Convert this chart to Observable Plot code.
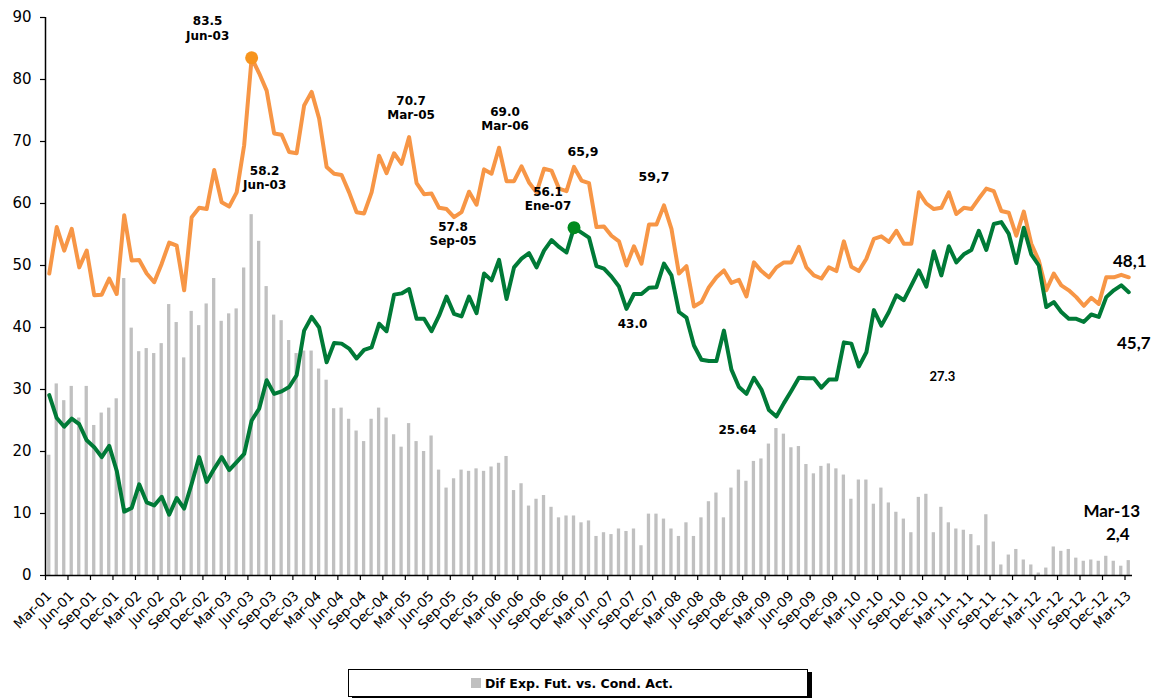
<!DOCTYPE html>
<html>
<head>
<meta charset="utf-8">
<script src="https://cdn.jsdelivr.net/npm/d3@7"></script>
<script src="https://cdn.jsdelivr.net/npm/@observablehq/plot@0.6"></script>
<style>
  html, body { margin: 0; padding: 0; background: #fff; }
  #wrap { position: relative; width: 1156px; height: 698px; overflow: hidden; }
  #legend {
    position: absolute; left: 348px; top: 669px; width: 458px; height: 26px;
    border: 1px solid #000; background: #fff; box-shadow: 4px 3px 0 #000;
    font-family: "DejaVu Sans", sans-serif; font-weight: bold; font-size: 12.5px;
    display: flex; align-items: center; justify-content: center; color: #000;
  }
  #legend .sw { display: inline-block; width: 10px; height: 10px; background: #c0c0c0; margin-right: 4px; margin-left: -12px; }
  #chart svg g[aria-label="x-axis tick label"] text { font-size: 13.5px; }
</style>
</head>
<body>
<div id="wrap">
  <div id="chart"></div>
  <div id="legend"><span class="sw"></span><span>Dif Exp. Fut. vs. Cond. Act.</span></div>
</div>
<script>
const months = [
  "Mar-01","Apr-01","May-01","Jun-01","Jul-01","Aug-01","Sep-01","Oct-01","Nov-01","Dec-01",
  "Jan-02","Feb-02","Mar-02","Apr-02","May-02","Jun-02","Jul-02","Aug-02","Sep-02","Oct-02","Nov-02","Dec-02",
  "Jan-03","Feb-03","Mar-03","Apr-03","May-03","Jun-03","Jul-03","Aug-03","Sep-03","Oct-03","Nov-03","Dec-03",
  "Jan-04","Feb-04","Mar-04","Apr-04","May-04","Jun-04","Jul-04","Aug-04","Sep-04","Oct-04","Nov-04","Dec-04",
  "Jan-05","Feb-05","Mar-05","Apr-05","May-05","Jun-05","Jul-05","Aug-05","Sep-05","Oct-05","Nov-05","Dec-05",
  "Jan-06","Feb-06","Mar-06","Apr-06","May-06","Jun-06","Jul-06","Aug-06","Sep-06","Oct-06","Nov-06","Dec-06",
  "Jan-07","Feb-07","Mar-07","Apr-07","May-07","Jun-07","Jul-07","Aug-07","Sep-07","Oct-07","Nov-07","Dec-07",
  "Jan-08","Feb-08","Mar-08","Apr-08","May-08","Jun-08","Jul-08","Aug-08","Sep-08","Oct-08","Nov-08","Dec-08",
  "Jan-09","Feb-09","Mar-09","Apr-09","May-09","Jun-09","Jul-09","Aug-09","Sep-09","Oct-09","Nov-09","Dec-09",
  "Jan-10","Feb-10","Mar-10","Apr-10","May-10","Jun-10","Jul-10","Aug-10","Sep-10","Oct-10","Nov-10","Dec-10",
  "Jan-11","Feb-11","Mar-11","Apr-11","May-11","Jun-11","Jul-11","Aug-11","Sep-11","Oct-11","Nov-11","Dec-11",
  "Jan-12","Feb-12","Mar-12","Apr-12","May-12","Jun-12","Jul-12","Aug-12","Sep-12","Oct-12","Nov-12","Dec-12",
  "Jan-13","Feb-13","Mar-13"
];

// Expectativas futuras (orange line)
const expFut = [
  48.7,56.2,52.4,55.9,49.7,52.4,45.2,45.3,47.9,45.4,
  58.1,50.8,50.9,48.7,47.3,50.3,53.7,53.2,46.0,57.8,59.3,59.1,
  65.4,60.2,59.5,61.8,69.4,83.5,81.0,78.2,71.3,71.1,68.3,68.1,
  75.8,78.0,73.7,65.9,64.8,64.6,61.8,58.6,58.4,61.8,67.7,64.9,
  68.1,66.4,70.7,63.3,61.5,61.6,59.3,59.1,57.8,58.6,61.9,59.8,
  65.5,64.8,69.0,63.6,63.6,66.0,63.4,61.8,65.6,65.3,62.4,62.0,
  65.9,63.7,63.3,56.2,56.3,54.8,53.9,50.0,53.1,50.3,56.6,56.6,
  59.7,55.9,48.7,49.9,43.4,44.1,46.5,48.1,49.2,47.2,47.7,45.0,
  50.5,49.1,48.1,49.7,50.5,50.5,53.0,49.7,48.4,47.9,49.7,49.1,
  53.9,49.8,49.1,51.1,54.3,54.7,53.8,55.6,53.5,53.5,61.8,60.0,
  59.1,59.3,61.8,58.3,59.3,59.1,60.8,62.4,62.0,58.8,58.5,54.8,
  58.7,53.5,50.8,46.0,48.7,46.8,46.0,44.9,43.5,44.8,43.8,48.1,
  48.1,48.5,48.1
];

// Condiciones actuales (green line)
const condAct = [
  29.1,25.4,24.0,25.3,24.4,21.8,20.7,19.1,20.9,16.9,
  10.3,10.9,14.7,11.8,11.3,12.7,9.8,12.5,10.8,14.8,19.1,15.1,
  17.2,19.1,17.0,18.3,19.6,25.0,26.9,31.5,29.3,29.7,30.4,32.3,
  39.5,41.7,40.0,34.4,37.5,37.4,36.6,35.0,36.4,36.8,40.6,39.4,
  45.3,45.5,46.2,41.4,41.4,39.4,41.9,45.0,42.2,41.8,45.0,42.3,
  48.7,47.6,50.9,44.6,49.7,51.1,52.0,49.7,52.4,54.1,53.0,52.1,
  56.1,55.3,54.5,49.9,49.5,48.2,46.6,43.0,45.4,45.4,46.4,46.5,
  50.3,48.4,42.5,41.6,37.1,34.8,34.6,34.6,39.5,33.2,30.4,29.3,
  31.9,30.0,26.7,25.64,27.8,29.8,31.9,31.8,31.8,30.3,31.6,31.6,
  37.6,37.4,33.7,36.0,42.8,40.3,42.5,45.2,44.4,46.8,49.2,46.6,
  52.3,48.4,53.1,50.5,51.8,52.5,55.6,52.5,56.7,57.0,55.1,50.4,
  56.1,51.8,50.0,43.3,44.1,42.5,41.4,41.4,40.9,42.1,41.7,44.9,
  46.0,46.8,45.7
];

// Dif Exp. Fut. vs. Cond. Act. (grey bars)
const difExpCond = [
  19.4,30.9,28.2,30.5,25.4,30.5,24.2,26.2,27.0,28.5,
  47.9,39.9,36.1,36.6,35.8,37.4,43.7,40.8,35.1,42.6,40.3,43.8,
  47.9,41.0,42.2,43.0,49.6,58.2,53.9,46.6,42.0,41.1,37.9,35.8,
  36.2,36.2,33.3,31.5,26.9,27.0,25.2,23.3,21.6,25.2,27.0,25.4,
  22.7,20.7,24.5,21.6,20.0,22.5,17.0,14.1,15.6,17.0,16.8,17.2,
  16.8,17.5,18.1,19.2,13.7,14.8,11.2,12.3,12.9,11.0,9.3,9.6,
  9.6,8.5,8.8,6.3,6.9,6.6,7.5,7.1,7.5,4.8,9.9,9.9,
  9.1,7.5,6.3,8.5,6.3,9.3,11.9,13.3,9.3,14.1,17.0,15.2,
  18.4,18.8,21.2,23.7,22.8,20.6,20.8,17.9,16.4,17.6,18.0,17.2,
  16.2,12.3,15.4,15.4,11.5,14.1,11.7,10.2,9.1,6.9,12.6,13.1,
  6.9,11.0,8.5,7.5,7.3,6.6,4.8,9.8,5.4,1.7,3.3,4.2,
  2.5,1.7,0.4,1.2,4.6,3.9,4.2,2.8,2.3,2.5,2.3,3.1,
  2.3,1.5,2.4
];

const yTicks = [0,10,20,30,40,50,60,70,80,90];
const xTickLabels = months.filter((m, i) => i % 3 === 0);

// Annotations: text, month, series reference, offset
const notes = [
  {text: "83.5\nJun-03", month: "Jun-03", series: "exp", dx: -44, dy: -30, size: 12, font: "DejaVu Sans"},
  {text: "58.2\nJun-03", month: "Jun-03", series: "dif", dx: 13, dy: -37, size: 12, font: "DejaVu Sans"},
  {text: "70.7\nMar-05", month: "Mar-05", series: "exp", dx: 2, dy: -30, size: 12, font: "DejaVu Sans"},
  {text: "69.0\nMar-06", month: "Mar-06", series: "exp", dx: 6, dy: -29, size: 12, font: "DejaVu Sans"},
  {text: "57.8\nSep-05", month: "Sep-05", series: "exp", dx: -1, dy: 16, size: 12, font: "DejaVu Sans"},
  {text: "56.1\nEne-07", month: "Jan-07", series: "cond", dx: -26, dy: -29, size: 12, font: "DejaVu Sans"},
  {text: "65,9", month: "Jan-07", series: "exp", dx: 9, dy: -16, size: 12.5, font: "DejaVu Sans"},
  {text: "59,7", month: "Jan-08", series: "exp", dx: -10, dy: -29, size: 12.5, font: "DejaVu Sans"},
  {text: "43.0", month: "Aug-07", series: "cond", dx: 6, dy: 14, size: 12, font: "DejaVu Sans"},
  {text: "25.64", month: "Apr-09", series: "cond", dx: -39, dy: 13, size: 12, font: "DejaVu Sans"},
  {text: "27.3", month: "Feb-11", series: "dif", dx: 1, dy: -131, size: 13, font: "Lato"},
  {text: "48,1", month: "Mar-13", series: "exp", dx: 1, dy: -17, size: 17, font: "Lato"},
  {text: "45,7", month: "Mar-13", series: "cond", dx: 5, dy: 50, size: 17, font: "Lato"},
  {text: "Mar-13", month: "Mar-13", series: "dif", dx: -17, dy: -50, size: 17, font: "Lato"},
  {text: "2,4", month: "Mar-13", series: "dif", dx: -11, dy: -27, size: 17, font: "Lato"}
];

const table = months.map((m, i) => ({month: m, exp: expFut[i], cond: condAct[i], dif: difExpCond[i]}));
const byMonth = new Map(table.map(d => [d.month, d]));

const orange = "#f79646";
const green = "#007a37";

const noteMarks = notes.map(n => {
  const row = byMonth.get(n.month);
  return Plot.text([row], {
    x: "month", y: n.series, text: () => n.text,
    dx: n.dx, dy: n.dy, fontSize: n.size, fontWeight: "bold",
    fontFamily: n.font, fill: "#000", lineAnchor: "middle", lineHeight: 1.2
  });
});

const peakExp = table.filter(d => d.month === "Jun-03");
const peakCond = table.filter(d => d.month === "Jan-07");

const chart = Plot.plot({
  width: 1156,
  height: 668,
  marginLeft: 45,
  marginRight: 24,
  marginTop: 17,
  marginBottom: 93,
  style: {fontFamily: "DejaVu Sans, sans-serif", background: "transparent", overflow: "visible"},
  x: {type: "band", domain: months, padding: 0, axis: null, label: null},
  y: {domain: [0, 90], axis: null, label: null},
  marks: [
    Plot.barY(table, {x: "month", y: "dif", fill: "#c0c0c0", insetLeft: 2.1, insetRight: 2.1}),
    Plot.line(table, {x: "month", y: "exp", stroke: orange, strokeWidth: 4, strokeLinejoin: "round", curve: "linear"}),
    Plot.line(table, {x: "month", y: "cond", stroke: green, strokeWidth: 4, strokeLinejoin: "round", curve: "linear"}),
    Plot.dot(peakExp, {x: "month", y: "exp", r: 6.5, fill: "#f7941d", stroke: "none"}),
    Plot.dot(peakCond, {x: "month", y: "cond", r: 6.5, fill: "#008a1e", stroke: "none"}),
    Plot.ruleY([0], {stroke: "#000", strokeWidth: 1.5}),
    Plot.ruleX([months[0]], {y1: 0, y2: 90, stroke: "#000", strokeWidth: 1.5, dx: -3.75}),
    Plot.axisY({ticks: yTicks, tickSize: 5, tickPadding: 9, fontSize: 15, label: null, tickFormat: d => String(d), stroke: "#000", strokeWidth: 1.2, fill: "#000"}),
    Plot.axisX({ticks: xTickLabels, tickSize: 5, label: null, tickFormat: () => "", dx: -3.75, stroke: "#000", strokeWidth: 1.2}),
    Plot.axisX({ticks: xTickLabels, tickSize: 0, label: null, tickPadding: 18, tickRotate: -45, fontSize: 13.5, dx: 0, fill: "#000", ariaLabel: "x-axis tick label"}),
    ...noteMarks
  ]
});

document.getElementById("chart").appendChild(chart);
</script>
</body>
</html>
